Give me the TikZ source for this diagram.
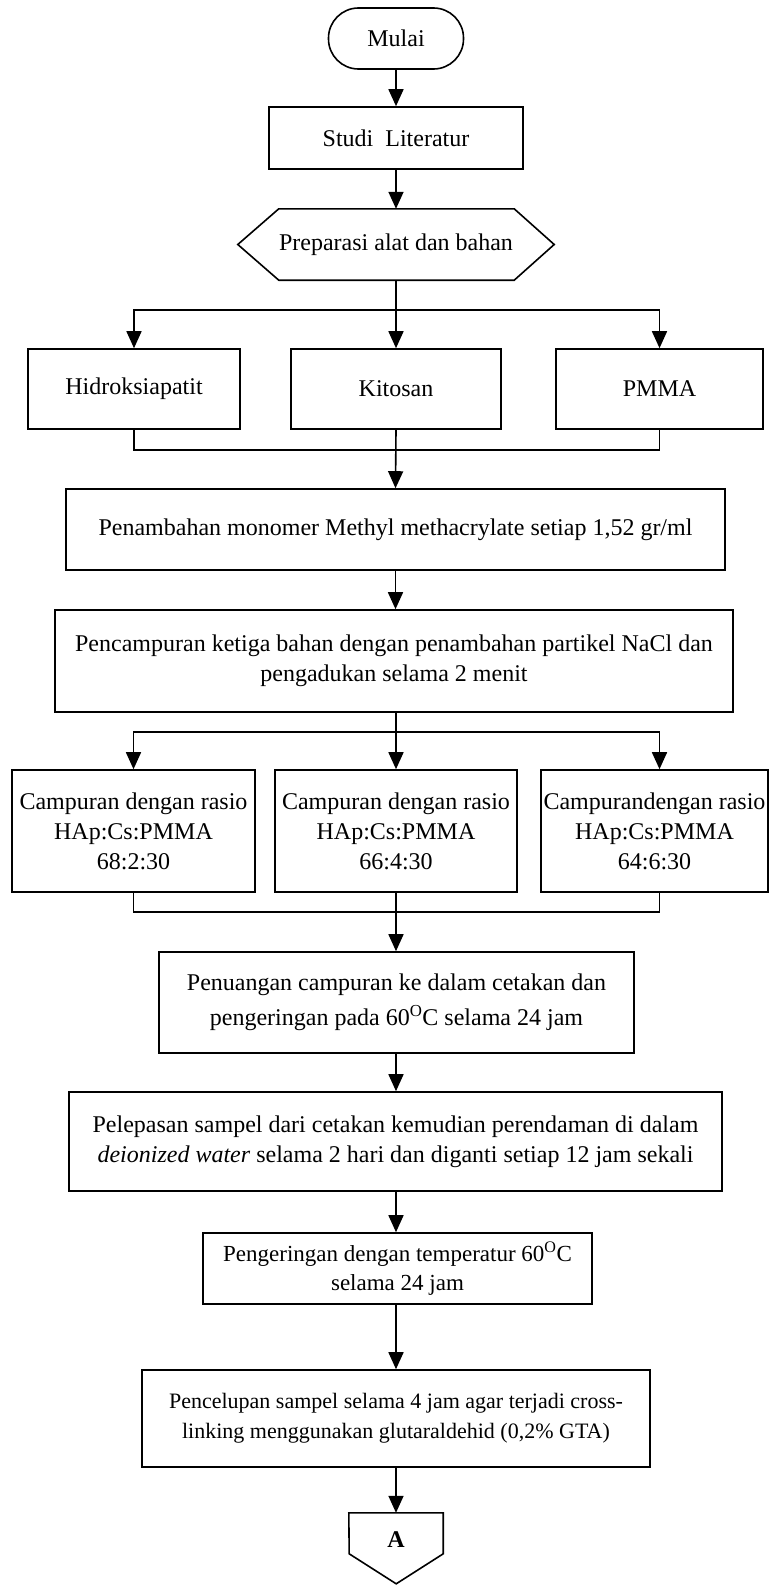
\documentclass[tikz,border=0pt]{standalone}
\usepackage{fontspec}
\setmainfont{Liberation Serif}
\usetikzlibrary{arrows.meta}

\begin{document}
\begin{tikzpicture}[x=1pt, y=-1pt,
  box/.style={draw, line width=1.6pt, inner sep=0pt, align=center, font=\fontsize{24}{30}\selectfont},
  plain/.style={inner sep=0pt, align=center, font=\fontsize{24}{30}\selectfont},
  arr/.style={-{Triangle[length=17pt,width=15pt]}, line width=1.6pt},
  link/.style={line width=1.6pt}]
  \useasboundingbox (0,0) rectangle (769,1587);

  \node[box, rounded corners=30pt, minimum width=135pt, minimum height=61pt] (mulai) at (396,38.5) {Mulai};
  \node[box, minimum width=254pt, minimum height=62pt] (studi) at (396,138) {Studi~ Literatur};
  \node[plain, minimum width=316pt, minimum height=71pt] (prep) at (396,244.5) {Preparasi alat dan bahan};
  \draw[link] (prep.west) -- ([xshift=41pt]prep.north west) -- ([xshift=-40pt]prep.north east)
    -- (prep.east) -- ([xshift=-40pt]prep.south east) -- ([xshift=41pt]prep.south west) -- cycle;

  \node[box, minimum width=212pt, minimum height=80pt] (hidro) at (134,389) {Hidroksiapatit};
  \node[box, minimum width=210pt, minimum height=80pt] (kitosan) at (396,389) {Kitosan};
  \node[box, minimum width=207pt, minimum height=80pt] (pmma) at (659.5,389) {PMMA};

  \node[box, minimum width=659pt, minimum height=81pt] (tambah) at (395.5,529.5)
    {Penambahan monomer Methyl methacrylate setiap 1,52 gr/ml};
  \node[box, minimum width=678pt, minimum height=102pt] (campur) at (394,661)
    {Pencampuran ketiga bahan dengan penambahan partikel NaCl dan\\ pengadukan selama 2 menit};

  \node[box, minimum width=243pt, minimum height=122pt] (rasioa) at (133.5,831)
    {Campuran dengan rasio\\ HAp:Cs:PMMA\\ 68:2:30};
  \node[box, minimum width=242pt, minimum height=122pt] (rasiob) at (396,831)
    {Campuran dengan rasio\\ HAp:Cs:PMMA\\ 66:4:30};
  \node[box, minimum width=227pt, minimum height=122pt] (rasioc) at (654.5,831)
    {Campurandengan rasio\\ HAp:Cs:PMMA\\ 64:6:30};

  \node[box, minimum width=475pt, minimum height=101pt, font=\fontsize{24}{35}\selectfont] (tuang) at (396.5,1002.5)
    {Penuangan campuran ke dalam cetakan dan\\ pengeringan pada 60\textsuperscript{O}C selama 24 jam};
  \node[box, minimum width=653pt, minimum height=99pt] (lepas) at (395.5,1141.5)
    {Pelepasan sampel dari cetakan kemudian perendaman di dalam\\ \textit{deionized water} selama 2 hari dan diganti setiap 12 jam sekali};
  \node[box, minimum width=389pt, minimum height=71pt, font=\fontsize{23}{29}\selectfont] (kering) at (397.5,1268.5)
    {Pengeringan dengan temperatur 60\textsuperscript{O}C\\ selama 24 jam};
  \node[box, minimum width=508pt, minimum height=97pt, font=\fontsize{22}{30}\selectfont] (celup) at (396,1418.5)
    {Pencelupan sampel selama 4 jam agar terjadi cross-\\ linking menggunakan glutaraldehid (0,2\% GTA)};

  \node[plain, minimum width=94pt, minimum height=54pt] (A) at (396,1540) {\textbf{A}};
  \draw[link] (A.north west) -- (A.north east) -- ++(0,41) -- ++(-47,30) -- ++(-47,-30) -- cycle;

  \coordinate (pisah) at (396,310);
  \coordinate (gabung) at (396,450);
  \coordinate (pisahb) at (396,732);
  \coordinate (gabungb) at (396,912);

  \draw[arr] (mulai) -- (studi);
  \draw[arr] (studi) -- (prep.north);
  \draw[link] (prep.south) -- (pisah);
  \draw[arr] (pisah) -| (hidro.north);
  \draw[arr] (pisah) -- (kitosan.north);
  \draw[arr] (pisah) -| (pmma.north);
  \draw[link] (hidro.south) |- (gabung);
  \draw[link] (pmma.south) |- (gabung);
  \draw[arr] (kitosan.south) -- (tambah.north);
  \draw[arr] (tambah.south) -- (campur.north -| tambah.south);
  \draw[link] (campur.south -| pisahb) -- (pisahb);
  \draw[arr] (pisahb) -| (rasioa.north);
  \draw[arr] (pisahb) -- (rasiob.north);
  \draw[arr] (pisahb) -| (rasioc.north -| pmma);
  \draw[link] (rasioa.south) |- (gabungb);
  \draw[link] (rasioc.south -| pmma) |- (gabungb);
  \draw[arr] (rasiob.south) -- (tuang.north -| rasiob);
  \draw[arr] (tuang.south -| rasiob) -- (lepas.north -| rasiob);
  \draw[arr] (lepas.south -| rasiob) -- (kering.north -| rasiob);
  \draw[arr] (kering.south -| rasiob) -- (celup.north);
  \draw[arr] (celup.south) -- (A.north);
\end{tikzpicture}
\end{document}
